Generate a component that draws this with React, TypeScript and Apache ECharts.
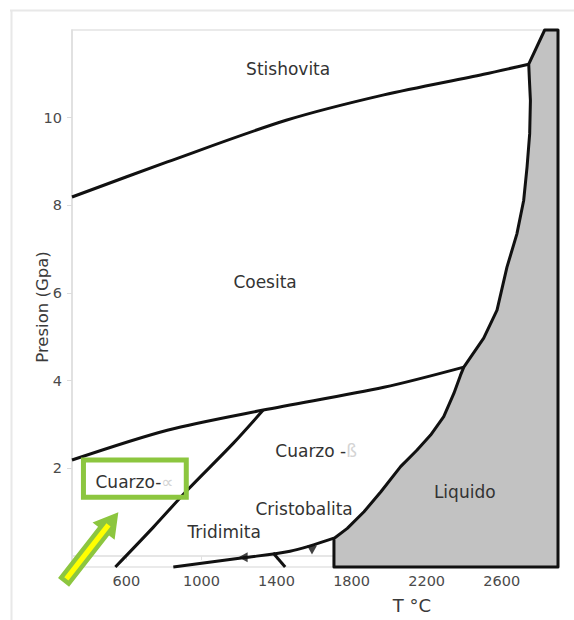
import React, { useEffect, useRef } from "react";
import * as echarts from "echarts";

// Axis ranges and ticks
const tempRange = [310, 2900];
const presRange = [-0.25, 12];
const tempTicks = [600, 1000, 1400, 1800, 2200, 2600];
const presTicks = [2, 4, 6, 8, 10];

// Phase boundaries (T in °C, P in GPa)
const coesiteStishoviteT = [310, 818, 1451, 1972, 2504, 2744];
const coesiteStishoviteP = [8.19, 8.99, 9.94, 10.52, 10.99, 11.22];

const quartzCoesiteT = [310, 818, 1329, 1972, 2398];
const quartzCoesiteP = [2.19, 2.87, 3.33, 3.85, 4.31];

const alphaBetaT = [541, 744, 924, 1169, 1329];
const alphaBetaP = [-0.25, 0.66, 1.5, 2.57, 3.33];

const tridymiteCristobaliteT = [850, 1222, 1472, 1706];
const tridymiteCristobaliteP = [-0.25, -0.04, 0.11, 0.41];

const quartzTridymiteT = [1382, 1446];
const quartzTridymiteP = [0.07, -0.25];

// Liquid field outline
const liquidT = [1706, 1706, 1777, 1866, 1955, 2061, 2149, 2221, 2291, 2345, 2380, 2398, 2504, 2575, 2628, 2681, 2717, 2735, 2749, 2753, 2747, 2744, 2829, 2900, 2900];
const liquidP = [-0.25, 0.4, 0.63, 1.01, 1.46, 2.04, 2.42, 2.76, 3.18, 3.71, 4.12, 4.31, 4.97, 5.61, 6.59, 7.35, 8.11, 8.87, 9.63, 10.39, 10.92, 11.22, 12.0, 12.0, -0.25];

// Direction triangles on the tridymite-cristobalite line
const markerT = [1222, 1589];
const markerP = [-0.03, 0.14];
const markerRot = [90, 180];

// Region labels
const regionNames = ["Stishovita", "Coesita", "Cuarzo -", "Cristobalita", "Tridimita", "Liquido", "Cuarzo-"];
const regionSuffix = ["", "", "ß", "", "", "", "∝"];
const regionT = [1462, 1339, 1611, 1547, 1121, 2403, 643];
const regionP = [11.12, 6.24, 2.39, 1.07, 0.55, 1.46, 1.69];

// Highlight annotation (box and arrow)
const boxT = [371, 919];
const boxP = [2.19, 1.34];
const arrowTailTP = [265, -0.6];
const arrowTipTP = [557, 1.0];

const FONT = "DejaVu Sans";

function zip(a: number[], b: number[]) {
  return a.map((v, i) => [v, b[i]]);
}

function lineSeries(name: string, t: number[], p: number[]) {
  return {
    name,
    type: "line",
    data: zip(t, p),
    smooth: 0.3,
    showSymbol: false,
    symbol: "none",
    clip: false,
    lineStyle: { color: "#111", width: 3 },
    z: 5,
  };
}

export default function App() {
  const ref = useRef<HTMLDivElement>(null);

  useEffect(() => {
    if (!ref.current) return;
    const chart = echarts.init(ref.current, null, { renderer: "svg" });

    const option: any = {
      animation: false,
      backgroundColor: "#ffffff",
      grid: {
        left: 72,
        right: 16,
        top: 30,
        bottom: 53,
        show: true,
        borderColor: "#e4e4e4",
        borderWidth: 1.5,
      },
      xAxis: {
        type: "value",
        min: tempRange[0],
        max: tempRange[1],
        axisLine: { show: true, lineStyle: { color: "#dedede", width: 1.5 } },
        axisTick: { show: true, customValues: tempTicks, length: 4, lineStyle: { color: "#e0e0e0" } },
        axisLabel: {
          customValues: tempTicks,
          formatter: (v: number) => String(v),
          color: "#4a4a4a",
          fontFamily: FONT,
          fontSize: 14.5,
          margin: 6,
        },
        splitLine: { show: false },
      },
      yAxis: {
        type: "value",
        min: presRange[0],
        max: presRange[1],
        axisLine: { show: true, lineStyle: { color: "#dedede", width: 1.5 } },
        axisTick: { show: true, customValues: presTicks, length: 5, lineStyle: { color: "#dcdcdc" } },
        axisLabel: {
          customValues: presTicks,
          formatter: (v: number) => String(v),
          color: "#4a4a4a",
          fontFamily: FONT,
          fontSize: 14.5,
          margin: 10,
        },
        splitLine: { show: false },
      },
      graphic: [
        { type: "line", shape: { x1: 10, y1: 10.5, x2: 574, y2: 10.5 }, style: { stroke: "#e8e8e8", lineWidth: 2 } },
        { type: "line", shape: { x1: 11.5, y1: 10, x2: 11.5, y2: 620 }, style: { stroke: "#e8e8e8", lineWidth: 2 } },
        {
          type: "text",
          x: 42,
          y: 307,
          rotation: Math.PI / 2,
          style: {
            text: "Presion (Gpa)",
            fill: "#3a3a3a",
            font: `16.5px "${FONT}"`,
            align: "center",
            verticalAlign: "middle",
          },
        },
        {
          type: "text",
          x: 412,
          y: 605,
          style: {
            text: "T °C",
            fill: "#3a3a3a",
            font: `18px "${FONT}"`,
            align: "center",
            verticalAlign: "middle",
          },
        },
      ],
      series: [
        {
          name: "Liquido",
          type: "custom",
          data: [[liquidT[0], liquidP[0]]],
          encode: { x: 0, y: 1 },
          clip: false,
          z: 3,
          renderItem: (params: any, api: any) => {
            const pts = liquidT.map((t, i) => api.coord([t, liquidP[i]]));
            return {
              type: "polygon",
              shape: { points: pts, smooth: 0 },
              style: { fill: "#c2c2c2", stroke: "#111", lineWidth: 3, lineJoin: "round" },
            };
          },
        },
        lineSeries("Coesita-Stishovita", coesiteStishoviteT, coesiteStishoviteP),
        lineSeries("Cuarzo-Coesita", quartzCoesiteT, quartzCoesiteP),
        lineSeries("Cuarzo α-β", alphaBetaT, alphaBetaP),
        lineSeries("Tridimita-Cristobalita", tridymiteCristobaliteT, tridymiteCristobaliteP),
        lineSeries("Cuarzo-Tridimita", quartzTridymiteT, quartzTridymiteP),
        {
          name: "markers",
          type: "scatter",
          data: markerT.map((t, i) => ({ value: [t, markerP[i]], symbolRotate: markerRot[i] })),
          symbol: "triangle",
          symbolSize: [10, 9],
          itemStyle: { color: "#111" },
          z: 6,
        },
        {
          name: "labels",
          type: "custom",
          data: regionNames.map((n, i) => [regionT[i], regionP[i], i]),
          encode: { x: 0, y: 1 },
          clip: false,
          z: 8,
          renderItem: (params: any, api: any) => {
            const i = params.dataIndex;
            const pt = api.coord([regionT[i], regionP[i]]);
            const suffix = regionSuffix[i];
            return {
              type: "text",
              x: pt[0],
              y: pt[1],
              style: {
                text: suffix ? `{a|${regionNames[i]}}{b|${suffix}}` : `{a|${regionNames[i]}}`,
                align: "center",
                verticalAlign: "middle",
                rich: {
                  a: { fill: "#333", fontFamily: FONT, fontSize: 17 },
                  b: { fill: "#d4d4d4", fontFamily: FONT, fontSize: 17 },
                },
              },
            };
          },
        },
        {
          name: "annotation",
          type: "custom",
          data: [[boxT[0], boxP[0]]],
          encode: { x: 0, y: 1 },
          clip: false,
          z: 7,
          renderItem: (params: any, api: any) => {
            const b0 = api.coord([boxT[0], boxP[0]]);
            const b1 = api.coord([boxT[1], boxP[1]]);
            const tail = api.coord(arrowTailTP);
            const tip = api.coord(arrowTipTP);
            const dx = tip[0] - tail[0];
            const dy = tip[1] - tail[1];
            const L = Math.hypot(dx, dy);
            const ux = dx / L, uy = dy / L;
            const nx = -uy, ny = ux;
            const headLen = 24, headHalf = 14, shaftHalf = 7, innerHalf = 2.6;
            const neck = [tip[0] - ux * headLen, tip[1] - uy * headLen];
            const P = (base: number[], along: number, side: number) => [
              base[0] + ux * along + nx * side,
              base[1] + uy * along + ny * side,
            ];
            const outer = [
              P(tail, 0, shaftHalf),
              P(neck, 0, shaftHalf),
              P(neck, 0, headHalf),
              [tip[0], tip[1]],
              P(neck, 0, -headHalf),
              P(neck, 0, -shaftHalf),
              P(tail, 0, -shaftHalf),
            ];
            const inner = [
              P(tail, 4.5, innerHalf),
              P(neck, 8, innerHalf),
              P(neck, 8, -innerHalf),
              P(tail, 4.5, -innerHalf),
            ];
            return {
              type: "group",
              children: [
                {
                  type: "rect",
                  shape: {
                    x: Math.min(b0[0], b1[0]),
                    y: Math.min(b0[1], b1[1]),
                    width: Math.abs(b1[0] - b0[0]),
                    height: Math.abs(b1[1] - b0[1]),
                  },
                  style: { fill: "rgba(0,0,0,0)", stroke: "#8cc63f", lineWidth: 5 },
                },
                { type: "polygon", shape: { points: outer }, style: { fill: "#8cc63f" } },
                { type: "polygon", shape: { points: inner }, style: { fill: "#ffff00" } },
              ],
            };
          },
        },
      ],
    };

    chart.setOption(option);
    return () => chart.dispose();
  }, []);

  return (
    <div
      ref={ref}
      style={{ position: "absolute", left: 0, top: 0, width: 574, height: 620, background: "#fff" }}
    />
  );
}
